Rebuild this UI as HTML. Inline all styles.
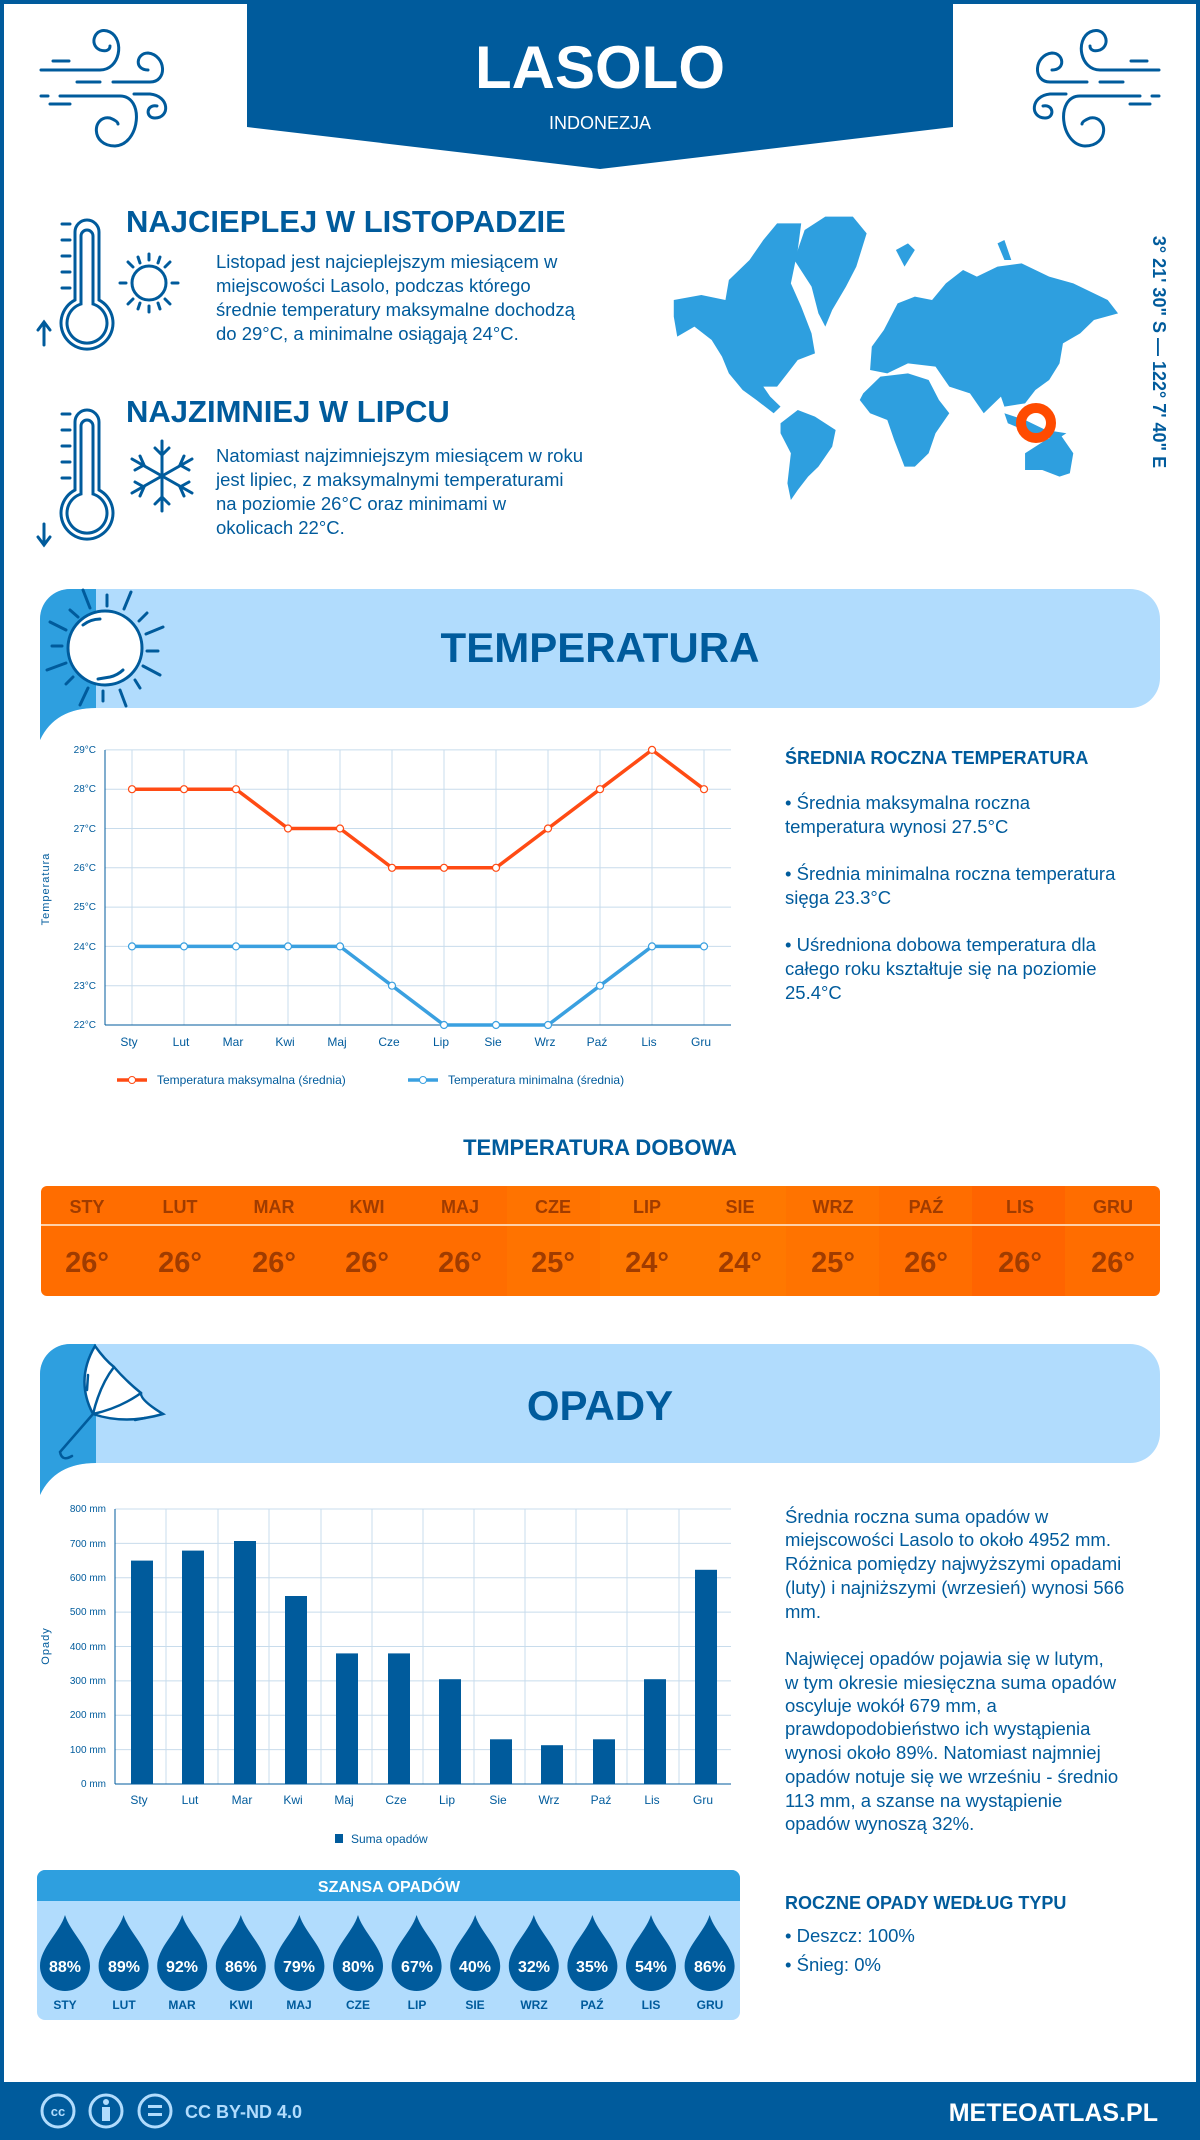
<!DOCTYPE html>
<html><head><meta charset="utf-8"><style>
html,body{margin:0;padding:0;background:#fff}
svg{display:block}
text{font-family:"Liberation Sans",sans-serif}
</style></head><body>
<svg width="1200" height="2140" viewBox="0 0 1200 2140" xmlns="http://www.w3.org/2000/svg">
<rect x="0" y="0" width="1200" height="2140" fill="#fff"/>
<rect x="0" y="0" width="1200" height="4" fill="#005b9c"/>
<rect x="0" y="0" width="4" height="2140" fill="#005b9c"/>
<rect x="1196" y="0" width="4" height="2140" fill="#005b9c"/>
<!-- header banner -->
<polygon points="247,0 953,0 953,127 600,169 247,127" fill="#005b9c"/>
<text x="600" y="88" text-anchor="middle" font-size="60" font-weight="bold" fill="#fff">LASOLO</text>
<text x="600" y="129" text-anchor="middle" font-size="18" fill="#fff">INDONEZJA</text>
<!-- wind icons -->
<g id="wind" fill="none" stroke="#005b9c" stroke-width="3" stroke-linecap="round">
<path d="M41,70 H100 C120,70 125,40 110,32 C95,25 88,45 100,50 C106,52 110,50 110,46"/>
<path d="M53,61 H69"/>
<path d="M77,82 H100 M113,82 H150 C168,82 166,55 148,53 C136,53 134,70 148,70"/>
<path d="M41,96 H48 M60,96 H120 C145,96 140,145 115,146 C90,146 92,115 110,118 C115,120 118,122 118,124"/>
<path d="M50,104 H70"/>
<path d="M134,94 H150 C170,96 170,118 155,118 C145,118 146,104 157,106"/>
</g>
<use href="#wind" transform="translate(1200,0) scale(-1,1)"/>
<!-- thermometers -->
<g fill="none" stroke="#005b9c" stroke-width="3" stroke-linecap="round">
<path d="M75,300 V232 A12,12 0 0 1 99,232 V300 A26,26 0 1 1 75,300 Z"/>
<path d="M81,304 V236 A6,6 0 0 1 93,236 V304 A20,20 0 1 1 81,304 Z"/>
<path d="M62,224 H70 M62,240 H70 M62,256 H70 M62,272 H70 M62,288 H70"/>
<path d="M44,345 V322 M38,330 L44,322 L50,330"/>
<circle cx="149" cy="283" r="17"/>
<path d="M149,254 V260 M149,306 V312 M120,283 H126 M172,283 H178 M128,262 L133,267 M165,299 L170,304 M128,304 L133,299 M165,267 L170,262 M138,257 L140,263 M158,303 L160,309 M138,309 L140,303 M158,263 L160,257"/>
<path d="M75,490 V422 A12,12 0 0 1 99,422 V490 A26,26 0 1 1 75,490 Z"/>
<path d="M81,494 V426 A6,6 0 0 1 93,426 V494 A20,20 0 1 1 81,494 Z"/>
<path d="M62,414 H70 M62,430 H70 M62,446 H70 M62,462 H70 M62,478 H70"/>
<path d="M44,524 V545 M38,537 L44,545 L50,537"/>
<g transform="translate(162,476)">
<path d="M0,-35 V35 M-30,-17 L30,17 M-30,17 L30,-17"/>
<path d="M-7,-28 L0,-21 L7,-28 M-7,28 L0,21 L7,28 M-27,-6 L-18,-11 L-22,-20 M27,6 L18,11 L22,20 M-27,6 L-18,11 L-22,20 M27,-6 L18,-11 L22,-20"/>
</g>
</g>
<text x="126" y="232" font-size="31" font-weight="bold" fill="#005b9c">NAJCIEPLEJ W LISTOPADZIE</text>
<g font-size="18.5" fill="#005b9c">
<text x="216" y="268">Listopad jest najcieplejszym miesiącem w</text>
<text x="216" y="292">miejscowości Lasolo, podczas którego</text>
<text x="216" y="316">średnie temperatury maksymalne dochodzą</text>
<text x="216" y="340">do 29°C, a minimalne osiągają 24°C.</text>
</g>
<text x="126" y="422" font-size="31" font-weight="bold" fill="#005b9c">NAJZIMNIEJ W LIPCU</text>
<g font-size="18.5" fill="#005b9c">
<text x="216" y="462">Natomiast najzimniejszym miesiącem w roku</text>
<text x="216" y="486">jest lipiec, z maksymalnymi temperaturami</text>
<text x="216" y="510">na poziomie 26°C oraz minimami w</text>
<text x="216" y="534">okolicach 22°C.</text>
</g>
<!-- map -->
<g transform="translate(660,200) scale(0.3444,0.3333)" fill="#2e9fdf">
<polygon points="40,300 120,285 190,300 200,240 260,180 300,120 340,70 410,70 400,150 380,250 410,320 440,400 450,460 400,480 370,520 340,560 300,560 320,590 350,620 330,640 280,600 240,570 200,520 180,470 150,420 100,380 50,410 40,350"/>
<polygon points="390,180 420,90 480,50 560,50 600,100 570,200 540,260 500,330 480,380 460,340 440,260"/>
<polygon points="350,670 400,630 450,650 510,690 500,740 460,800 430,830 400,870 380,900 370,850 380,760 350,700"/>
<polygon points="610,510 615,440 650,390 690,310 740,290 790,300 830,250 880,210 920,230 980,200 1050,190 1130,230 1200,250 1300,300 1330,340 1260,360 1220,400 1170,430 1160,490 1130,540 1090,570 1060,610 1000,620 990,590 940,640 900,580 840,560 800,500 720,490 660,520"/>
<polygon points="590,580 640,530 720,520 780,540 810,600 840,640 800,700 780,760 740,800 710,800 680,720 660,660 610,640 580,600"/>
<polygon points="1060,760 1120,720 1160,700 1200,760 1190,820 1160,830 1110,810 1060,810"/>
<polygon points="1000,640 1060,660 1120,690 1180,700 1150,720 1080,700 1010,670"/>
<polygon points="685,150 720,130 740,150 710,200"/>
<polygon points="980,130 1000,120 1020,180 1000,180"/>
</g>
<circle cx="1036" cy="423" r="15" fill="none" stroke="#ff4b00" stroke-width="10"/>
<text transform="translate(1153,352) rotate(90)" text-anchor="middle" font-size="18" font-weight="bold" fill="#005b9c">3° 21' 30" S — 122° 7' 40" E</text>
<!-- temperatura band -->
<path d="M40,720 V619 A30,30 0 0 1 70,589 H1130 A30,30 0 0 1 1160,619 V678 A30,30 0 0 1 1130,708 H96 Q55,708 40,740 Z" fill="#b1dcfd"/>
<path d="M40,740 V619 A30,30 0 0 1 70,589 H96 V708 Q55,708 40,740 Z" fill="#2e9fdf"/>
<g fill="none" stroke="#005b9c" stroke-width="3" stroke-linecap="round">
<circle cx="105" cy="648" r="37" fill="#fff"/>
<path d="M83,625 A28,28 0 0 1 100,619 M98,679 L110,677 A28,28 0 0 0 123,670"/>
<path d="M83,590 L90,608 M107,595 V606 M131,592 L124,609 M147,613 L139,621 M163,627 L146,634 M147,651 H158 M143,666 L160,675 M135,680 L140,688 M120,690 L126,706 M103,691 V701 M88,688 L80,705 M73,677 L66,684 M66,663 L47,670 M52,646 H62 M50,622 L66,630 M70,610 L78,617"/>
</g>
<text x="600" y="662" text-anchor="middle" font-size="42" font-weight="bold" fill="#005b9c">TEMPERATURA</text>
<!-- temp chart -->
<g stroke="#c8dcec" stroke-width="1">
<line x1="105" y1="749.9" x2="731" y2="749.9"/><line x1="105" y1="789.2" x2="731" y2="789.2"/>
<line x1="105" y1="828.5" x2="731" y2="828.5"/><line x1="105" y1="867.8" x2="731" y2="867.8"/>
<line x1="105" y1="907.1" x2="731" y2="907.1"/><line x1="105" y1="946.4" x2="731" y2="946.4"/>
<line x1="105" y1="985.7" x2="731" y2="985.7"/>
<line x1="132" y1="750" x2="132" y2="1025"/><line x1="184" y1="750" x2="184" y2="1025"/><line x1="236" y1="750" x2="236" y2="1025"/><line x1="288" y1="750" x2="288" y2="1025"/><line x1="340" y1="750" x2="340" y2="1025"/><line x1="392" y1="750" x2="392" y2="1025"/><line x1="444" y1="750" x2="444" y2="1025"/><line x1="496" y1="750" x2="496" y2="1025"/><line x1="548" y1="750" x2="548" y2="1025"/><line x1="600" y1="750" x2="600" y2="1025"/><line x1="652" y1="750" x2="652" y2="1025"/><line x1="704" y1="750" x2="704" y2="1025"/>
</g>
<line x1="105" y1="750" x2="105" y2="1025" stroke="#005b9c"/>
<line x1="105" y1="1025" x2="731" y2="1025" stroke="#005b9c"/>
<g font-size="10" fill="#005b9c" text-anchor="end">
<text x="96" y="753">29°C</text><text x="96" y="792">28°C</text><text x="96" y="832">27°C</text><text x="96" y="871">26°C</text><text x="96" y="910">25°C</text><text x="96" y="950">24°C</text><text x="96" y="989">23°C</text><text x="96" y="1028">22°C</text>
</g>
<text transform="translate(49,889) rotate(-90)" text-anchor="middle" font-size="11" fill="#005b9c" letter-spacing="1">Temperatura</text>
<g font-size="12" fill="#005b9c" text-anchor="middle">
<text x="129" y="1046">Sty</text><text x="181" y="1046">Lut</text><text x="233" y="1046">Mar</text><text x="285" y="1046">Kwi</text><text x="337" y="1046">Maj</text><text x="389" y="1046">Cze</text><text x="441" y="1046">Lip</text><text x="493" y="1046">Sie</text><text x="545" y="1046">Wrz</text><text x="597" y="1046">Paź</text><text x="649" y="1046">Lis</text><text x="701" y="1046">Gru</text>
</g>
<polyline points="132,789.2 184,789.2 236,789.2 288,828.5 340,828.5 392,867.8 444,867.8 496,867.8 548,828.5 600,789.2 652,749.9 704,789.2" fill="none" stroke="#ff4b14" stroke-width="3.5"/>
<polyline points="132,946.4 184,946.4 236,946.4 288,946.4 340,946.4 392,985.7 444,1025 496,1025 548,1025 600,985.7 652,946.4 704,946.4" fill="none" stroke="#3aa0e0" stroke-width="3.5"/>
<g fill="#fff" stroke="#ff4b14" stroke-width="1.2">
<circle cx="132" cy="789.2" r="3.5"/><circle cx="184" cy="789.2" r="3.5"/><circle cx="236" cy="789.2" r="3.5"/><circle cx="288" cy="828.5" r="3.5"/><circle cx="340" cy="828.5" r="3.5"/><circle cx="392" cy="867.8" r="3.5"/><circle cx="444" cy="867.8" r="3.5"/><circle cx="496" cy="867.8" r="3.5"/><circle cx="548" cy="828.5" r="3.5"/><circle cx="600" cy="789.2" r="3.5"/><circle cx="652" cy="749.9" r="3.5"/><circle cx="704" cy="789.2" r="3.5"/>
</g>
<g fill="#fff" stroke="#3aa0e0" stroke-width="1.2">
<circle cx="132" cy="946.4" r="3.5"/><circle cx="184" cy="946.4" r="3.5"/><circle cx="236" cy="946.4" r="3.5"/><circle cx="288" cy="946.4" r="3.5"/><circle cx="340" cy="946.4" r="3.5"/><circle cx="392" cy="985.7" r="3.5"/><circle cx="444" cy="1025" r="3.5"/><circle cx="496" cy="1025" r="3.5"/><circle cx="548" cy="1025" r="3.5"/><circle cx="600" cy="985.7" r="3.5"/><circle cx="652" cy="946.4" r="3.5"/><circle cx="704" cy="946.4" r="3.5"/>
</g>
<line x1="117" y1="1080" x2="147" y2="1080" stroke="#ff4b14" stroke-width="3.5"/><circle cx="132" cy="1080" r="3.5" fill="#fff" stroke="#ff4b14"/>
<text x="157" y="1084" font-size="12" fill="#005b9c">Temperatura maksymalna (średnia)</text>
<line x1="408" y1="1080" x2="438" y2="1080" stroke="#3aa0e0" stroke-width="3.5"/><circle cx="423" cy="1080" r="3.5" fill="#fff" stroke="#3aa0e0"/>
<text x="448" y="1084" font-size="12" fill="#005b9c">Temperatura minimalna (średnia)</text>
<!-- right temp text -->
<text x="785" y="764" font-size="18" font-weight="bold" fill="#005b9c">ŚREDNIA ROCZNA TEMPERATURA</text>
<g font-size="18.5" fill="#005b9c">
<text x="785" y="809">• Średnia maksymalna roczna</text>
<text x="785" y="833">temperatura wynosi 27.5°C</text>
<text x="785" y="880">• Średnia minimalna roczna temperatura</text>
<text x="785" y="904">sięga 23.3°C</text>
<text x="785" y="951">• Uśredniona dobowa temperatura dla</text>
<text x="785" y="975">całego roku kształtuje się na poziomie</text>
<text x="785" y="999">25.4°C</text>
</g>
<text x="600" y="1155" text-anchor="middle" font-size="22" font-weight="bold" fill="#005b9c">TEMPERATURA DOBOWA</text>
<!-- daily table -->
<rect x="41" y="1186" width="1119" height="110" rx="6" fill="#ff6d00"/>
<rect x="507" y="1186" width="93" height="110" fill="#ff7300"/>
<rect x="600" y="1186" width="93" height="110" fill="#ff7800"/>
<rect x="693" y="1186" width="93" height="110" fill="#ff7800"/>
<rect x="786" y="1186" width="93" height="110" fill="#ff7300"/>
<rect x="972" y="1186" width="93" height="110" fill="#ff6400"/>
<rect x="41" y="1224" width="1119" height="2" fill="#ffd0a8"/>
<g font-size="18" font-weight="bold" fill="#a03c00" text-anchor="middle">
<text x="87" y="1213">STY</text><text x="180" y="1213">LUT</text><text x="274" y="1213">MAR</text><text x="367" y="1213">KWI</text><text x="460" y="1213">MAJ</text><text x="553" y="1213">CZE</text><text x="647" y="1213">LIP</text><text x="740" y="1213">SIE</text><text x="833" y="1213">WRZ</text><text x="926" y="1213">PAŹ</text><text x="1020" y="1213">LIS</text><text x="1113" y="1213">GRU</text>
</g>
<g font-size="29" font-weight="bold" fill="#a03c00" text-anchor="middle">
<text x="87" y="1272">26°</text><text x="180" y="1272">26°</text><text x="274" y="1272">26°</text><text x="367" y="1272">26°</text><text x="460" y="1272">26°</text><text x="553" y="1272">25°</text><text x="647" y="1272">24°</text><text x="740" y="1272">24°</text><text x="833" y="1272">25°</text><text x="926" y="1272">26°</text><text x="1020" y="1272">26°</text><text x="1113" y="1272">26°</text>
</g>
<!-- opady band -->
<path d="M40,1475 V1374 A30,30 0 0 1 70,1344 H1130 A30,30 0 0 1 1160,1374 V1433 A30,30 0 0 1 1130,1463 H96 Q55,1463 40,1495 Z" fill="#b1dcfd"/>
<path d="M40,1495 V1374 A30,30 0 0 1 70,1344 H96 V1463 Q55,1463 40,1495 Z" fill="#2e9fdf"/>
<g fill="none" stroke="#005b9c" stroke-width="2.5" stroke-linecap="round">
<path d="M95,1346 Q75,1380 93,1414 Q125,1425 163,1414 Q140,1400 141,1393 Q125,1380 114,1367 Q105,1360 95,1346 Z" fill="#fff"/>
<path d="M114,1367 Q100,1385 93,1414 M141,1393 Q120,1408 93,1414 M88,1375 L87,1390 M135,1420 L145,1418"/>
<path d="M93,1414 L60,1452 Q62,1462 72,1456"/>
</g>
<text x="600" y="1420" text-anchor="middle" font-size="42" font-weight="bold" fill="#005b9c">OPADY</text>
<!-- precip chart -->
<g stroke="#c8dcec" stroke-width="1">
<line x1="115" y1="1509" x2="731" y2="1509"/><line x1="115" y1="1543.4" x2="731" y2="1543.4"/><line x1="115" y1="1577.8" x2="731" y2="1577.8"/><line x1="115" y1="1612.1" x2="731" y2="1612.1"/><line x1="115" y1="1646.5" x2="731" y2="1646.5"/><line x1="115" y1="1680.9" x2="731" y2="1680.9"/><line x1="115" y1="1715.3" x2="731" y2="1715.3"/><line x1="115" y1="1749.6" x2="731" y2="1749.6"/>
<line x1="166" y1="1509" x2="166" y2="1784"/><line x1="218" y1="1509" x2="218" y2="1784"/><line x1="269" y1="1509" x2="269" y2="1784"/><line x1="321" y1="1509" x2="321" y2="1784"/><line x1="372" y1="1509" x2="372" y2="1784"/><line x1="423" y1="1509" x2="423" y2="1784"/><line x1="474" y1="1509" x2="474" y2="1784"/><line x1="525" y1="1509" x2="525" y2="1784"/><line x1="576" y1="1509" x2="576" y2="1784"/><line x1="627" y1="1509" x2="627" y2="1784"/><line x1="679" y1="1509" x2="679" y2="1784"/>
</g>
<line x1="115" y1="1509" x2="115" y2="1784" stroke="#005b9c"/>
<line x1="115" y1="1784" x2="731" y2="1784" stroke="#005b9c"/>
<g font-size="10" fill="#005b9c" text-anchor="end">
<text x="106" y="1512">800 mm</text><text x="106" y="1547">700 mm</text><text x="106" y="1581">600 mm</text><text x="106" y="1615">500 mm</text><text x="106" y="1650">400 mm</text><text x="106" y="1684">300 mm</text><text x="106" y="1718">200 mm</text><text x="106" y="1753">100 mm</text><text x="106" y="1787">0 mm</text>
</g>
<text transform="translate(49,1646) rotate(-90)" text-anchor="middle" font-size="11" fill="#005b9c" letter-spacing="1">Opady</text>
<g fill="#005b9c">
<rect x="131" y="1560.6" width="22" height="223.4"/><rect x="182" y="1550.6" width="22" height="233.4"/><rect x="234" y="1541" width="22" height="243"/><rect x="285" y="1596" width="22" height="188"/><rect x="336" y="1653.4" width="22" height="130.6"/><rect x="388" y="1653.4" width="22" height="130.6"/><rect x="439" y="1679.2" width="22" height="104.8"/><rect x="490" y="1739.3" width="22" height="44.7"/><rect x="541" y="1745.2" width="22" height="38.8"/><rect x="593" y="1739.3" width="22" height="44.7"/><rect x="644" y="1679.2" width="22" height="104.8"/><rect x="695" y="1569.8" width="22" height="214.2"/>
</g>
<g font-size="12" fill="#005b9c" text-anchor="middle">
<text x="139" y="1804">Sty</text><text x="190" y="1804">Lut</text><text x="242" y="1804">Mar</text><text x="293" y="1804">Kwi</text><text x="344" y="1804">Maj</text><text x="396" y="1804">Cze</text><text x="447" y="1804">Lip</text><text x="498" y="1804">Sie</text><text x="549" y="1804">Wrz</text><text x="601" y="1804">Paź</text><text x="652" y="1804">Lis</text><text x="703" y="1804">Gru</text>
</g>
<rect x="335" y="1834" width="8" height="9" fill="#005b9c"/>
<text x="351" y="1843" font-size="12" fill="#005b9c">Suma opadów</text>
<!-- right precip text -->
<g font-size="18.5" fill="#005b9c">
<text x="785" y="1523">Średnia roczna suma opadów w</text>
<text x="785" y="1546">miejscowości Lasolo to około 4952 mm.</text>
<text x="785" y="1570">Różnica pomiędzy najwyższymi opadami</text>
<text x="785" y="1594">(luty) i najniższymi (wrzesień) wynosi 566</text>
<text x="785" y="1618">mm.</text>
<text x="785" y="1665">Najwięcej opadów pojawia się w lutym,</text>
<text x="785" y="1689">w tym okresie miesięczna suma opadów</text>
<text x="785" y="1712">oscyluje wokół 679 mm, a</text>
<text x="785" y="1735">prawdopodobieństwo ich wystąpienia</text>
<text x="785" y="1759">wynosi około 89%. Natomiast najmniej</text>
<text x="785" y="1783">opadów notuje się we wrześniu - średnio</text>
<text x="785" y="1807">113 mm, a szanse na wystąpienie</text>
<text x="785" y="1830">opadów wynoszą 32%.</text>
</g>
<text x="785" y="1909" font-size="18" font-weight="bold" fill="#005b9c">ROCZNE OPADY WEDŁUG TYPU</text>
<g font-size="18.5" fill="#005b9c">
<text x="785" y="1942">• Deszcz: 100%</text>
<text x="785" y="1971">• Śnieg: 0%</text>
</g>
<!-- szansa opadow -->
<rect x="37" y="1870" width="703" height="150" rx="8" fill="#b1dcfd"/>
<path d="M37,1901 V1878 A8,8 0 0 1 45,1870 H732 A8,8 0 0 1 740,1878 V1901 Z" fill="#2e9fdf"/>
<text x="389" y="1892" text-anchor="middle" font-size="16" font-weight="bold" fill="#fff">SZANSA OPADÓW</text>
<g fill="#005b9c">
<path id="d" d="M65,1915 C70,1932 90,1948 90,1966 A25,25 0 0 1 40,1966 C40,1948 60,1932 65,1915 Z"/>
<use href="#d" x="58.6"/><use href="#d" x="117.2"/><use href="#d" x="175.8"/><use href="#d" x="234.4"/><use href="#d" x="293"/><use href="#d" x="351.6"/><use href="#d" x="410.2"/><use href="#d" x="468.8"/><use href="#d" x="527.4"/><use href="#d" x="586"/><use href="#d" x="644.6"/>
</g>
<g font-size="16" font-weight="bold" fill="#fff" text-anchor="middle">
<text x="65" y="1972">88%</text><text x="124" y="1972">89%</text><text x="182" y="1972">92%</text><text x="241" y="1972">86%</text><text x="299" y="1972">79%</text><text x="358" y="1972">80%</text><text x="417" y="1972">67%</text><text x="475" y="1972">40%</text><text x="534" y="1972">32%</text><text x="592" y="1972">35%</text><text x="651" y="1972">54%</text><text x="710" y="1972">86%</text>
</g>
<g font-size="12" font-weight="bold" fill="#005b9c" text-anchor="middle">
<text x="65" y="2009">STY</text><text x="124" y="2009">LUT</text><text x="182" y="2009">MAR</text><text x="241" y="2009">KWI</text><text x="299" y="2009">MAJ</text><text x="358" y="2009">CZE</text><text x="417" y="2009">LIP</text><text x="475" y="2009">SIE</text><text x="534" y="2009">WRZ</text><text x="592" y="2009">PAŹ</text><text x="651" y="2009">LIS</text><text x="710" y="2009">GRU</text>
</g>
<!-- footer -->
<rect x="0" y="2082" width="1200" height="58" fill="#005b9c"/>
<g fill="none" stroke="#b1dcfd" stroke-width="3">
<circle cx="58" cy="2111" r="16"/><circle cx="106" cy="2111" r="16"/><circle cx="155" cy="2111" r="16"/>
</g>
<text x="58" y="2116" text-anchor="middle" font-size="13" font-weight="bold" fill="#b1dcfd">cc</text>
<circle cx="106" cy="2102" r="3" fill="#b1dcfd"/><rect x="102" y="2107" width="8" height="14" fill="#b1dcfd"/>
<rect x="148" y="2105" width="14" height="3" fill="#b1dcfd"/><rect x="148" y="2113" width="14" height="3" fill="#b1dcfd"/>
<text x="185" y="2118" font-size="18" font-weight="bold" fill="#b1dcfd">CC BY-ND 4.0</text>
<text x="1158" y="2121" text-anchor="end" font-size="25" font-weight="bold" fill="#fff">METEOATLAS.PL</text>
</svg>
</body></html>
